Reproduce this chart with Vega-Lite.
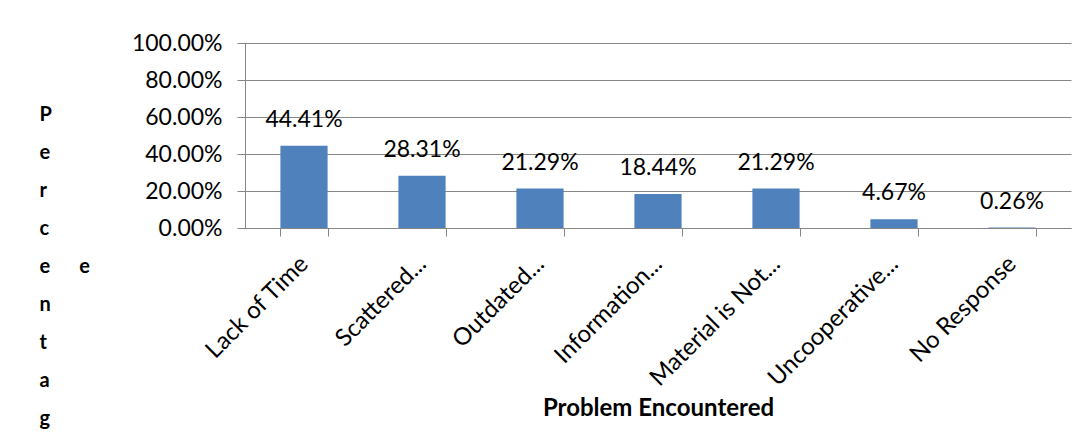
{
  "$schema": "https://vega.github.io/schema/vega-lite/v6.json",
  "width": 826,
  "height": 185,
  "autosize": {"type": "none"},
  "padding": {"left": 245, "top": 43, "right": 15, "bottom": 220},
  "background": "white",
  "config": {
    "view": {"stroke": null},
    "font": "Lato",
    "text": {"font": "Lato"}
  },
  "data": {
    "values": [
      {"problem": "Lack of Time", "pct": 0.4441},
      {"problem": "Scattered...", "pct": 0.2831},
      {"problem": "Outdated...", "pct": 0.2129},
      {"problem": "Information...", "pct": 0.1844},
      {"problem": "Material is Not...", "pct": 0.2129},
      {"problem": "Uncooperative...", "pct": 0.0467},
      {"problem": "No Response", "pct": 0.0026}
    ]
  },
  "encoding": {
    "x": {
      "field": "problem",
      "type": "nominal",
      "sort": null,
      "scale": {"paddingInner": 0.6, "paddingOuter": 0.3},
      "axis": {
        "title": "Problem Encountered",
        "titleFont": "Lato",
        "titleFontSize": 24,
        "titleFontWeight": "bold",
        "titleColor": "black",
        "titleBaseline": "alphabetic",
        "titleY": 187,
        "labelAngle": -45,
        "labelAlign": "right",
        "labelBaseline": "middle",
        "labelFont": "Lato",
        "labelFontSize": 24,
        "labelColor": "black",
        "labelPadding": 24,
        "labelOverlap": false,
        "labelLimit": 400,
        "tickBand": "extent",
        "tickColor": "#868686",
        "tickSize": 8,
        "domainColor": "#868686",
        "grid": false
      }
    },
    "y": {
      "field": "pct",
      "type": "quantitative",
      "scale": {"domain": [0, 1]},
      "axis": {
        "format": ".2%",
        "values": [0, 0.2, 0.4, 0.6, 0.8, 1],
        "labelOverlap": false,
        "labelFlush": false,
        "labelFont": "Lato",
        "labelFontSize": 23,
        "labelColor": "black",
        "labelPadding": 15,
        "tickSize": 8,
        "tickColor": "#868686",
        "domainColor": "#868686",
        "gridColor": "#868686",
        "gridWidth": 1,
        "title": ["P", "e", "r", "c", "e\u00a0\u00a0\u00a0\u00a0\u00a0\u00a0e", "n", "t", "a", "g"],
        "titleAngle": 0,
        "titleAlign": "left",
        "titleBaseline": "top",
        "titleX": -206,
        "titleY": 61,
        "titleLineHeight": 38,
        "titleFont": "Lato",
        "titleFontSize": 20,
        "titleFontWeight": "bold",
        "titleColor": "black"
      }
    }
  },
  "layer": [
    {
      "mark": {"type": "bar", "color": "#4F81BD"}
    },
    {
      "mark": {"type": "text", "baseline": "alphabetic", "dy": -19, "fontSize": 23, "font": "Lato", "color": "black"},
      "encoding": {
        "text": {"field": "pct", "type": "quantitative", "format": ".2%"}
      }
    }
  ]
}
